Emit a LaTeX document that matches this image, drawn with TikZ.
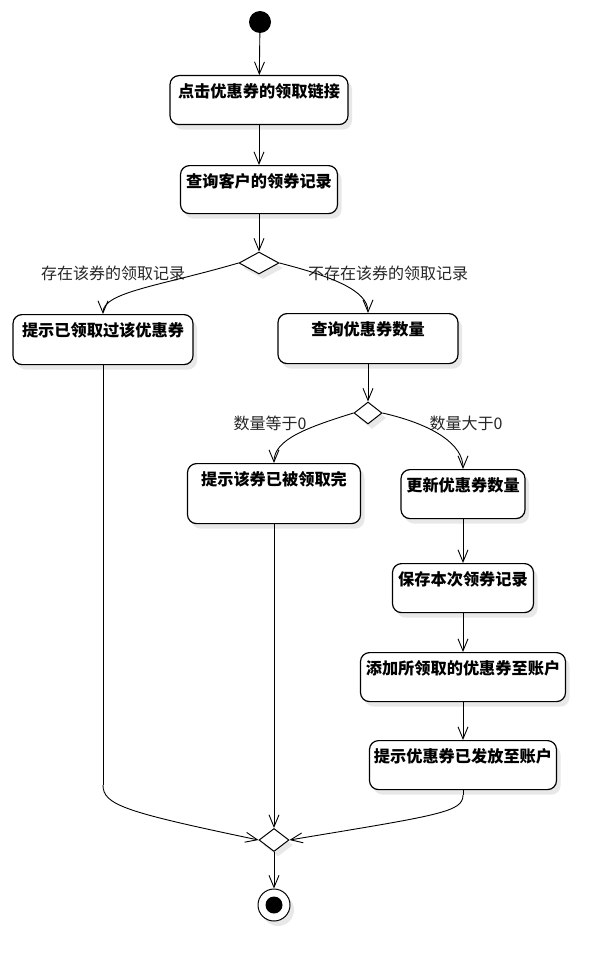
\documentclass[tikz,border=0pt]{standalone}
\usepackage{fontspec}
\newfontfamily\cjk{Noto Sans CJK SC}
\usetikzlibrary{shapes.geometric,arrows.meta,shadows}
\begin{document}
\begin{tikzpicture}[x=1pt,y=-1pt,
  shad/.style={drop shadow={shadow xshift=4pt,shadow yshift=-5pt,fill=black!9,opacity=1}},
  box/.style={draw, line width=1.2pt, rounded corners=9pt, fill=white, anchor=north,
    inner xsep=0pt, inner ysep=0pt, text height=22pt,
    font=\cjk\bfseries\fontsize{16.2}{18}\selectfont, shad},
  dec/.style={draw, diamond, line width=1pt, fill=white, inner sep=0pt, shad},
  flow/.style={draw, line width=0.9pt, -{Straight Barb[length=12pt,width=10pt]}},
  plain/.style={draw, line width=0.9pt},
  lbl/.style={font=\cjk\fontsize{16}{18}\selectfont, text=black!85}]
\fill[white] (0,0) rectangle (615,971);
\useasboundingbox (0,0) rectangle (615,971);

\node[circle, fill=black, minimum size=22pt, inner sep=0pt] (start) at (260,22) {};
\node[box, minimum width=178pt, text depth=27pt] (b1) at (259,75) {点击优惠券的领取链接};
\node[box, minimum width=157pt, text depth=26pt] (b2) at (259,165) {查询客户的领券记录};
\node[dec, minimum width=40pt, minimum height=22pt] (d1) at (259,263) {};
\node[box, minimum width=180pt, text depth=28pt] (b3) at (103,314) {提示已领取过该优惠券};
\node[box, minimum width=180pt, text depth=28pt] (b4) at (368,313) {查询优惠券数量};
\node[dec, minimum width=28pt, minimum height=22pt] (d2) at (368,413) {};
\node[box, minimum width=173pt, text depth=38pt] (b5) at (274,463) {提示该券已被领取完};
\node[box, minimum width=124pt, text depth=27pt] (b6) at (463,469) {更新优惠券数量};
\node[box, minimum width=141pt, text depth=27pt] (b7) at (463,563) {保存本次领券记录};
\node[box, minimum width=205pt, text depth=27pt] (b8) at (463,652) {添加所领取的优惠券至账户};
\node[box, minimum width=187pt, text depth=27pt] (b9) at (463,740) {提示优惠券已发放至账户};
\node[dec, minimum width=30pt, minimum height=23pt] (d3) at (274,840) {};
\node[circle, draw, line width=1pt, fill=white, minimum size=32pt, inner sep=0pt, shad] (end) at (274,905) {};
\node[circle, fill=black, minimum size=17pt, inner sep=0pt] (endc) at (end) {};

\node[lbl] (l1) at (113,273) {存在该券的领取记录};
\node[lbl] (l2) at (388,273) {不存在该券的领取记录};
\node[lbl] (l3) at (270,423) {数量等于0};
\node[lbl] (l4) at (466,423) {数量大于0};

\draw[flow] (start) -- (b1);
\draw[flow] (b1) -- (b2);
\draw[flow] (b2) -- (d1);
\draw[flow] (d1.west) .. controls (160,286) and (103,292) .. (b3.north);
\draw[flow] (d1.east) .. controls (330,276) and (368,290) .. (b4.north);
\draw[flow] (b4) -- (d2);
\draw[flow] (d2.west) .. controls (305,428) and (274,440) .. (b5.north);
\draw[flow] (d2.east) .. controls (435,425) and (463,445) .. (b6.north);
\draw[flow] (b6) -- (b7);
\draw[flow] (b7) -- (b8);
\draw[flow] (b8) -- (b9);
\coordinate (c1) at (103,785);
\coordinate (c2) at (463,795);
\draw[plain] (b3.south) -- (c1);
\draw[flow] (c1) .. controls (103,805) and (125,812) .. (d3.west);
\draw[plain] (b9.south) -- (c2);
\draw[flow] (c2) .. controls (463,812) and (440,815) .. (d3.east);
\draw[flow] (b5.south) -- (d3.north);
\draw[flow] (d3) -- (end);
\end{tikzpicture}
\end{document}
